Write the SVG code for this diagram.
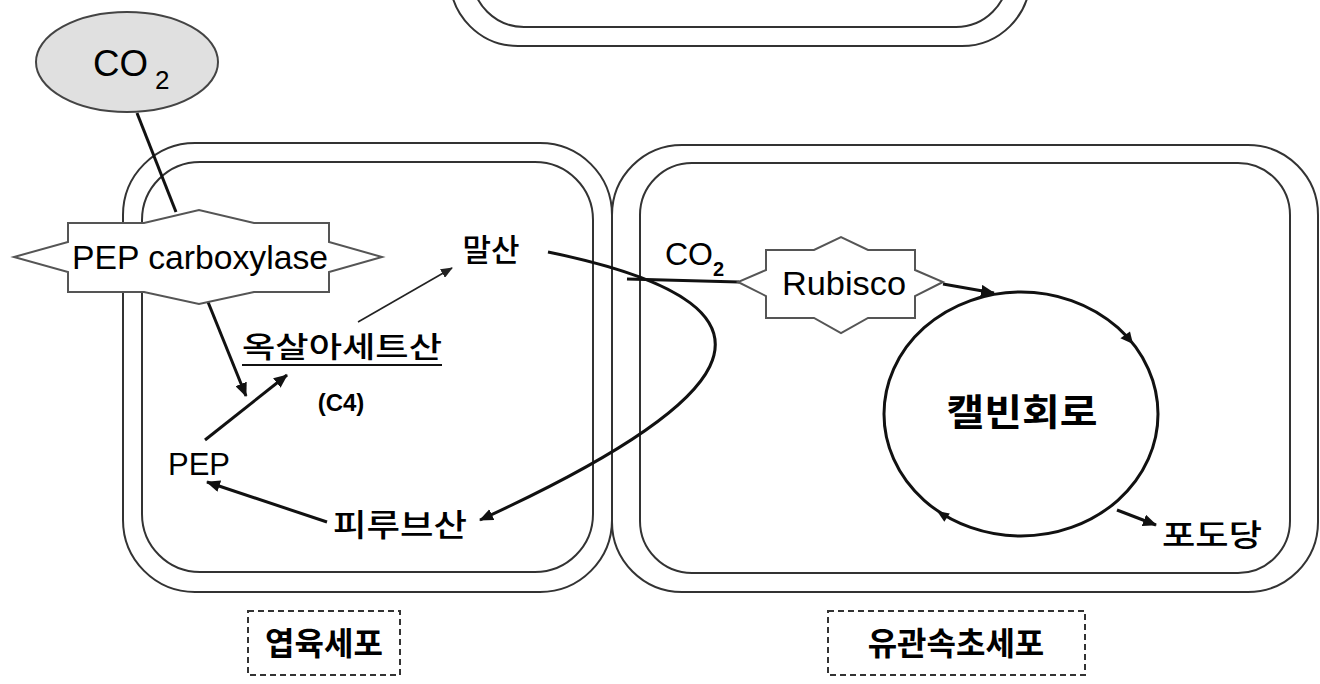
<svg xmlns="http://www.w3.org/2000/svg" width="1320" height="684" viewBox="0 0 1320 684">
<style>
.cell{fill:none;stroke:#333;stroke-width:2}
.enz{fill:#fff;stroke:#555;stroke-width:2}
.thick{fill:none;stroke:#111;stroke-width:3}
.thin{fill:none;stroke:#222;stroke-width:1.6}
.lat{font-family:"Liberation Sans",Arial,sans-serif;fill:#000}
.kr{font-family:"Noto Sans CJK KR","Noto Sans",sans-serif;fill:#000;font-weight:500}
.krb{font-weight:700}
.lbl{fill:#fff;stroke:#333;stroke-width:2;stroke-dasharray:6 4}
</style>
<defs>
<marker id="ah" viewBox="0 0 14 12" refX="13" refY="6" markerWidth="14" markerHeight="12" markerUnits="userSpaceOnUse" orient="auto"><path d="M0,0 L14,6 L0,12 Z" fill="#111"/></marker>
<marker id="ahs" viewBox="0 0 12 10" refX="11" refY="5" markerWidth="12" markerHeight="10" markerUnits="userSpaceOnUse" orient="auto"><path d="M0,0 L12,5 L0,10 Z" fill="#222"/></marker>
</defs>
<rect width="1320" height="684" fill="#fff"/>

<g id="top-cell">
<rect class="cell" x="450" y="-120" width="580" height="166" rx="68"/>
<rect class="cell" x="472" y="-120" width="536" height="147" rx="52"/>
</g>

<g id="mesophyll-cell">
<rect class="cell" x="123" y="143" width="489" height="449" rx="72"/>
<rect class="cell" x="142" y="162" width="451" height="410" rx="58"/>
</g>

<g id="bundle-sheath-cell">
<rect class="cell" x="612" y="145" width="706" height="447" rx="70"/>
<rect class="cell" x="640" y="163" width="650" height="410" rx="52"/>
</g>

<g id="connectors">
<line class="thick" x1="137" y1="113" x2="176" y2="212"/>
<line class="thick" x1="208" y1="302" x2="246" y2="396" marker-end="url(#ah)"/>
<line class="thick" x1="205" y1="440" x2="287" y2="375" marker-end="url(#ah)"/>
<line class="thin" x1="358" y1="322" x2="452" y2="268" marker-end="url(#ahs)"/>
<path class="thick" d="M548,252 C830,310 720,410 480,520" marker-end="url(#ah)"/>
<line class="thick" x1="327" y1="522" x2="207" y2="482" marker-end="url(#ah)"/>
<line class="thick" x1="627" y1="279" x2="739" y2="282"/>
<line class="thick" x1="943" y1="284" x2="994" y2="293" marker-end="url(#ah)"/>
<line class="thick" x1="1117" y1="510" x2="1156" y2="525" marker-end="url(#ah)"/>
</g>

<g id="co2-outside">
<ellipse cx="127" cy="62" rx="91" ry="50" fill="#e0e0e0" stroke="#444" stroke-width="2"/>
<text class="lat" x="93" y="76" font-size="37" textLength="55" lengthAdjust="spacingAndGlyphs">CO</text>
<text class="lat" x="155" y="89" font-size="26">2</text>
</g>

<g id="pep-carboxylase">
<polygon class="enz" points="68,223 144,223 199,210 254,223 329,223 329,242 382,257 329,272 329,292 254,292 199,304 144,292 68,292 68,272 14,257 68,242"/>
<text class="lat" x="72" y="269" font-size="34" textLength="256" lengthAdjust="spacingAndGlyphs">PEP carboxylase</text>
</g>

<g id="oxaloacetate">
<text class="kr" x="342" y="358" font-size="29" text-anchor="middle" textLength="200" lengthAdjust="spacingAndGlyphs">옥살아세트산</text>
<line x1="242" y1="365" x2="442" y2="365" stroke="#111" stroke-width="2"/>
<text class="lat" x="341" y="411" font-size="24" font-weight="bold" text-anchor="middle">(C4)</text>
</g>

<g id="malate">
<text class="kr" x="491" y="261" font-size="31" text-anchor="middle">말산</text>
</g>

<g id="pep">
<text class="lat" x="168" y="475" font-size="32" textLength="62" lengthAdjust="spacingAndGlyphs">PEP</text>
</g>

<g id="pyruvate">
<text class="kr" x="400" y="536" font-size="31" text-anchor="middle" textLength="134" lengthAdjust="spacingAndGlyphs">피루브산</text>
</g>

<g id="co2-inside">
<text class="lat" x="665" y="265" font-size="32">CO</text>
<text class="lat" x="713" y="276" font-size="20" font-weight="bold">2</text>
</g>

<g id="rubisco">
<polygon class="enz" points="766,250 814,250 841,237 868,250 915,250 915,270 943,282 915,296 915,318 868,318 841,333 814,318 766,318 766,296 738,282 766,270"/>
<text class="lat" x="844" y="295" font-size="34" text-anchor="middle" textLength="124" lengthAdjust="spacingAndGlyphs">Rubisco</text>
</g>

<g id="calvin-cycle">
<ellipse cx="1021" cy="414" rx="137" ry="122" fill="none" stroke="#111" stroke-width="3"/>
<polygon points="1133,344 1120.4,338.2 1130,331.6" fill="#111"/>
<polygon points="937,511 949.8,513.4 944.3,521.8" fill="#111"/>
<text class="kr krb" x="1022" y="426" font-size="37" text-anchor="middle" textLength="151" lengthAdjust="spacingAndGlyphs">캘빈회로</text>
</g>

<g id="glucose">
<text class="kr" x="1212" y="546" font-size="31" text-anchor="middle" textLength="100" lengthAdjust="spacingAndGlyphs">포도당</text>
</g>

<g id="label-mesophyll">
<rect class="lbl" x="248" y="611" width="152" height="64"/>
<text class="kr krb" x="324" y="655" font-size="32" text-anchor="middle">엽육세포</text>
</g>

<g id="label-bundle-sheath">
<rect class="lbl" x="828" y="611" width="257" height="64"/>
<text class="kr krb" x="956" y="655" font-size="32" text-anchor="middle">유관속초세포</text>
</g>
</svg>
